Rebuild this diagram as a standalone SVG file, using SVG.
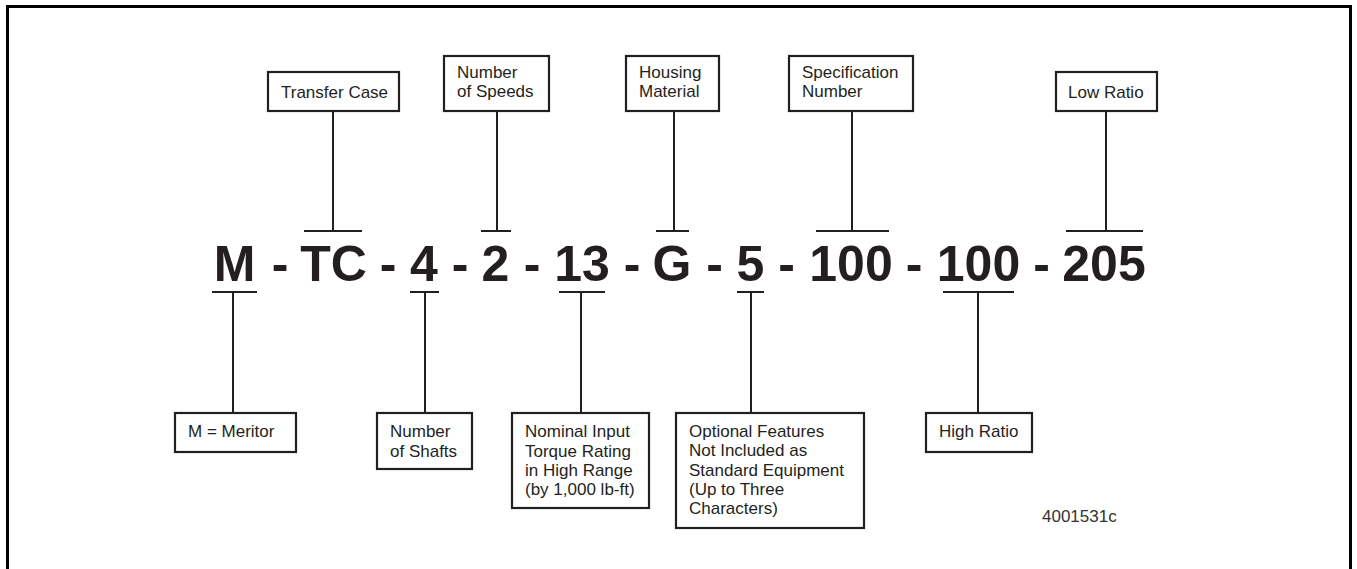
<svg xmlns="http://www.w3.org/2000/svg" width="1357" height="569" viewBox="0 0 1357 569">
<style>
.frame{fill:none;stroke:#000;stroke-width:3}
.box{fill:#fff;stroke:#231f20;stroke-width:2.2}
.lbl{font-family:"Liberation Sans",Arial,sans-serif;font-size:17px;fill:#231f20}
.big{font-family:"Liberation Sans",Arial,sans-serif;font-size:50px;font-weight:bold;fill:#231f20;text-anchor:middle}
.ln{stroke:#231f20;stroke-width:2;fill:none}
.code{font-family:"Liberation Sans",Arial,sans-serif;font-size:17px;fill:#333}
</style>
<rect width="1357" height="569" fill="#fff"/>
<rect class="frame" x="7.5" y="6.5" width="1343" height="600"/>

<g id="code">
<text class="big" x="234.5" y="281">M</text>
<text class="big" x="280" y="281">-</text>
<text class="big" x="333.5" y="281">TC</text>
<text class="big" x="388" y="281">-</text>
<text class="big" x="424" y="281">4</text>
<text class="big" x="460" y="281">-</text>
<text class="big" x="495.5" y="281">2</text>
<text class="big" x="532" y="281">-</text>
<text class="big" x="582" y="281">13</text>
<text class="big" x="632" y="281">-</text>
<text class="big" x="672" y="281">G</text>
<text class="big" x="714.5" y="281">-</text>
<text class="big" x="750.5" y="281">5</text>
<text class="big" x="786.5" y="281">-</text>
<text class="big" x="851" y="281">100</text>
<text class="big" x="914" y="281">-</text>
<text class="big" x="978.5" y="281">100</text>
<text class="big" x="1041.5" y="281">-</text>
<text class="big" x="1104" y="281">205</text>
</g>

<g id="connectors">
<path class="ln" d="M333 111V231M304 231H362"/>
<path class="ln" d="M497 111V231M481 231H511"/>
<path class="ln" d="M674 111V231M656 231H689"/>
<path class="ln" d="M852 111V231M816 231H889"/>
<path class="ln" d="M1106 111V231M1066 231H1143"/>
<path class="ln" d="M233 413V292M212 292H257"/>
<path class="ln" d="M425 413V292M410 292H439"/>
<path class="ln" d="M581 413V292M559 292H605"/>
<path class="ln" d="M751 413V292M737 292H764"/>
<path class="ln" d="M978 413V292M943 292H1014"/>
</g>

<g id="n-transfer-case">
<rect class="box" x="268" y="72" width="131" height="39"/>
<text class="lbl" x="281" y="98">Transfer Case</text>
</g>
<g id="n-speeds">
<rect class="box" x="444" y="56" width="105" height="55"/>
<text class="lbl" x="457" y="78">Number</text>
<text class="lbl" x="457" y="97">of Speeds</text>
</g>
<g id="n-housing">
<rect class="box" x="626" y="56" width="93" height="55"/>
<text class="lbl" x="639" y="78">Housing</text>
<text class="lbl" x="639" y="97">Material</text>
</g>
<g id="n-spec">
<rect class="box" x="789" y="56" width="124" height="55"/>
<text class="lbl" x="802" y="78">Specification</text>
<text class="lbl" x="802" y="97">Number</text>
</g>
<g id="n-low-ratio">
<rect class="box" x="1056" y="72" width="101" height="39"/>
<text class="lbl" x="1068" y="98">Low Ratio</text>
</g>
<g id="n-meritor">
<rect class="box" x="175" y="413" width="121" height="39"/>
<text class="lbl" x="188" y="437">M = Meritor</text>
</g>
<g id="n-shafts">
<rect class="box" x="377" y="413" width="95" height="56"/>
<text class="lbl" x="390" y="437">Number</text>
<text class="lbl" x="390" y="457">of Shafts</text>
</g>
<g id="n-torque">
<rect class="box" x="512" y="413" width="137" height="95"/>
<text class="lbl" x="525" y="437">Nominal Input</text>
<text class="lbl" x="525" y="457">Torque Rating</text>
<text class="lbl" x="525" y="476">in High Range</text>
<text class="lbl" x="525" y="495">(by 1,000 lb-ft)</text>
</g>
<g id="n-optional">
<rect class="box" x="676" y="413" width="188" height="115"/>
<text class="lbl" x="689" y="437">Optional Features</text>
<text class="lbl" x="689" y="456">Not Included as</text>
<text class="lbl" x="689" y="476">Standard Equipment</text>
<text class="lbl" x="689" y="495">(Up to Three</text>
<text class="lbl" x="689" y="514">Characters)</text>
</g>
<g id="n-high-ratio">
<rect class="box" x="926" y="413" width="106" height="39"/>
<text class="lbl" x="939" y="437">High Ratio</text>
</g>
<text class="code" x="1042" y="522">4001531c</text>
</svg>
